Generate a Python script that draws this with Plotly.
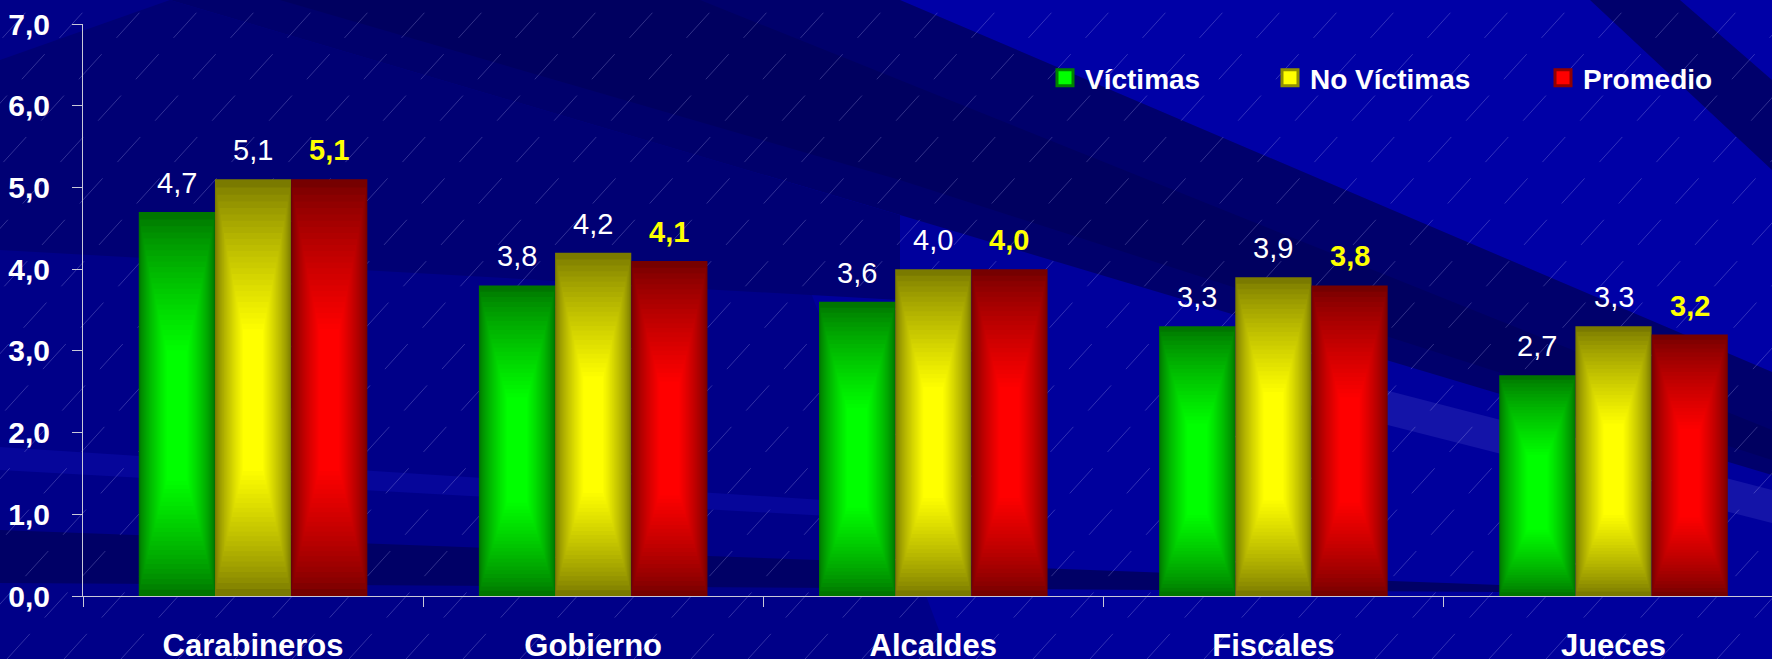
import plotly.graph_objects as go

# ---------------- data ----------------
categories = ["Carabineros", "Gobierno", "Alcaldes", "Fiscales", "Jueces"]
victimas = [4.7, 3.8, 3.6, 3.3, 2.7]
no_victimas = [5.1, 4.2, 4.0, 3.9, 3.3]
promedio = [5.1, 4.1, 4.0, 3.8, 3.2]
series_names = ["Víctimas", "No Víctimas", "Promedio"]
y_ticks = [0, 1, 2, 3, 4, 5, 6, 7]

# ---------------- style ----------------
W, H = 1772, 659
ML, MR, MT, MB = 83, 0, 24, 63
FONT = "Liberation Sans, Arial, sans-serif"
AXIS_COL = "#C8C8D8"
BAR_W = 0.224
dark_cols = [(0, 118, 0), (122, 122, 0), (118, 0, 0)]
bright_cols = [(0, 255, 0), (255, 255, 0), (255, 0, 0)]
label_cols = ["white", "white", "#FFFF00"]
label_weights = ["normal", "normal", "bold"]
legend_marker = [("#00FF00", "#008000"), ("#FFFF00", "#909000"), ("#FF0000", "#900000")]

NL = 26  # gradient layers


def mix(c1, c2, f):
    return "rgb(%d,%d,%d)" % tuple(round(a + (b - a) * f) for a, b in zip(c1, c2))


fig = go.Figure()

data = [victimas, no_victimas, promedio]
for s, vals in enumerate(data):
    center_off = (s - 1) * BAR_W
    for k in range(NL):
        t = k / (NL - 1)
        wf = 1 - 0.74 * t
        lo = 0.30 * t ** 0.9
        hi = 1 - 0.36 * t ** 0.9
        f = t ** 0.75
        w = BAR_W * wf
        fig.add_trace(go.Bar(
            x=categories,
            y=[v * (hi - lo) for v in vals],
            base=[v * lo for v in vals],
            width=w,
            offset=center_off - w / 2,
            marker=dict(color=mix(dark_cols[s], bright_cols[s], f), line=dict(width=0)),
            showlegend=False,
            hoverinfo="skip",
        ))

# legend-only traces (three independent legends)
for s, name in enumerate(series_names):
    fig.add_trace(go.Scatter(
        x=[None], y=[None], mode="markers", name=name,
        marker=dict(symbol="square", size=16, color=legend_marker[s][0],
                    line=dict(color=legend_marker[s][1], width=3)),
        legend="legend" if s == 0 else "legend%d" % (s + 1),
        showlegend=True,
    ))

# value labels
annotations = []
for s, vals in enumerate(data):
    for i, v in enumerate(vals):
        annotations.append(dict(
            x=i + (s - 1) * BAR_W, y=v, xref="x", yref="y",
            text=("%.1f" % v).replace(".", ","),
            showarrow=False, yanchor="bottom", xanchor="center", yshift=11,
            font=dict(family=FONT, size=29, color=label_cols[s], weight=label_weights[s]),
        ))

# ---------------- background decoration ----------------
PW = W - ML - MR
PH = H - MT - MB


def px(x):
    return (x - ML) / PW


def py(y):
    return (H - MB - y) / PH


def poly(pts, color):
    d = "M " + " L ".join("%.5f,%.5f" % (px(x), py(y)) for x, y in pts) + " Z"
    return dict(type="path", path=d, xref="paper", yref="paper",
                fillcolor=color, line=dict(width=0), layer="below")


shapes = [
    poly([(700, 0), (1772, 0), (1772, 659), (950, 659)], "#00009C"),
    poly([(900, 0), (1772, 0), (1772, 372)], "#0000A6"),
    poly([(170, 0), (900, 0), (1772, 372), (1772, 475), (900, 215)], "#00006C"),
    poly([(280, 0), (700, 0), (1772, 430), (1772, 460), (900, 180)], "#000060"),
    poly([(1590, 0), (1680, 0), (1772, 80), (1772, 170)], "#00006C"),
    poly([(0, 60), (170, 0), (900, 215), (900, 300), (0, 250)], "#000074"),
    poly([(1250, 355), (1772, 490), (1772, 523), (1250, 390)], "#1414A8"),
    poly([(0, 447), (900, 505), (900, 520), (0, 470)], "#06069A"),
    poly([(0, 530), (1500, 585), (1500, 592), (0, 583)], "#000066"),
]
x0 = -620
while x0 < W:
    shapes.append(dict(type="line", xref="paper", yref="paper",
                       x0=px(x0), y0=py(H), x1=px(x0 + 600), y1=py(0),
                       line=dict(color="rgba(200,200,255,0.25)", width=1, dash="34px,22px"),
                       layer="below"))
    x0 += 57

legend_common = dict(orientation="h", xanchor="left", yanchor="middle",
                     bgcolor="rgba(0,0,0,0)", borderwidth=0, itemsizing="trace",
                     font=dict(family=FONT, size=28, color="white", weight="bold"))

fig.update_layout(
    width=W, height=H,
    margin=dict(l=ML, r=MR, t=MT, b=MB, pad=0, autoexpand=False),
    paper_bgcolor="#000088",
    plot_bgcolor="rgba(0,0,0,0)",
    barmode="overlay",
    separators=",.",
    font=dict(family=FONT, color="white"),
    shapes=shapes,
    annotations=annotations,
    legend=dict(x=px(1045), y=py(78), **legend_common),
    legend2=dict(x=px(1270), y=py(78), **legend_common),
    legend3=dict(x=px(1543), y=py(78), **legend_common),
    xaxis=dict(
        type="category", categoryorder="array", categoryarray=categories,
        range=[-0.5, 4.466], showline=True, linecolor=AXIS_COL, linewidth=1,
        ticks="outside", tickson="boundaries", ticklen=10, tickcolor=AXIS_COL, tickwidth=1,
        tickfont=dict(family=FONT, size=31, color="white", weight="bold"),
        ticklabelstandoff=22, showgrid=False, zeroline=False, fixedrange=True,
        automargin=False,
    ),
    yaxis=dict(
        range=[0, 7], tickvals=y_ticks, tickformat=".1f",
        showline=True, linecolor=AXIS_COL, linewidth=1,
        ticks="outside", ticklen=10, tickcolor=AXIS_COL, tickwidth=1,
        tickfont=dict(family=FONT, size=30, color="white", weight="bold"),
        ticklabelstandoff=16, showgrid=False, zeroline=False, fixedrange=True,
        automargin=False,
    ),
)

fig.write_html("out.html", config={"displayModeBar": False},
               post_script="document.body.style.margin='0px';document.body.style.background='#000088';")
